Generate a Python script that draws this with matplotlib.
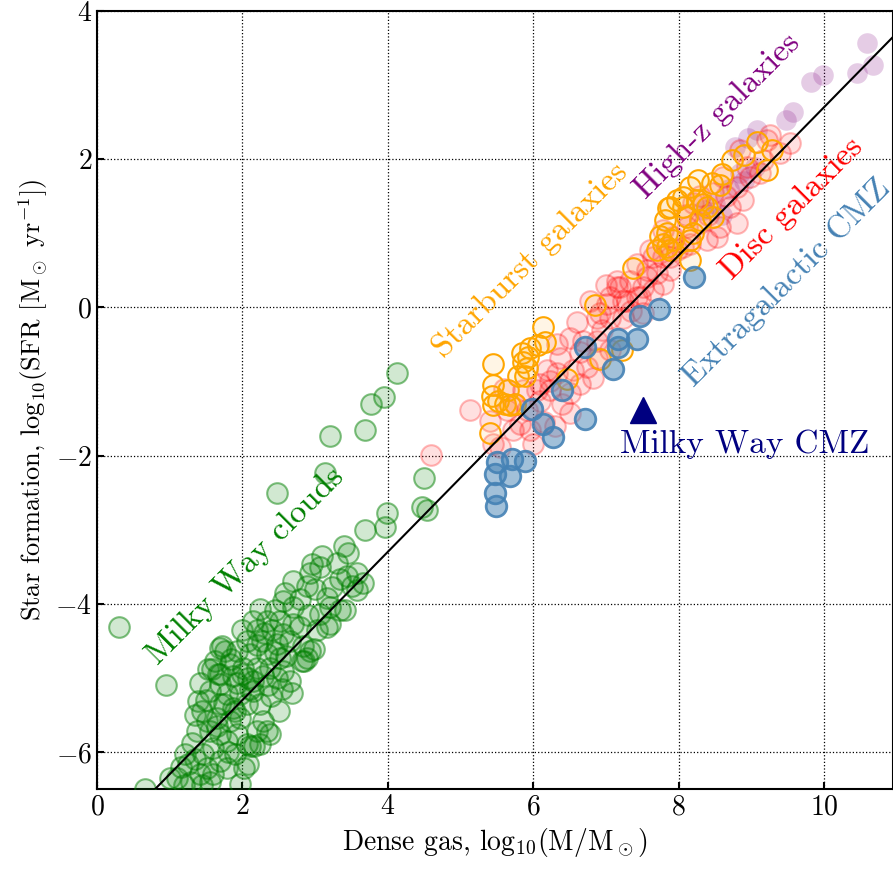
import numpy as np
import matplotlib.pyplot as plt

plt.rcParams['font.family'] = 'serif'
plt.rcParams['font.serif'] = ['cmr10']
plt.rcParams['mathtext.fontset'] = 'cm'
plt.rcParams['axes.formatter.use_mathtext'] = True

# (log M_dense, log SFR)
mw_clouds = [
    (0.30, -4.31), (0.95, -5.09), (2.48, -2.51), (3.20, -1.73), (3.14, -2.24),
    (3.69, -1.65), (3.77, -1.30), (3.95, -1.21), (4.13, -0.88), (4.50, -2.30),
    (4.47, -2.70), (4.54, -2.74), (3.99, -2.77), (3.96, -2.96), (3.69, -3.01),
    (3.40, -3.22), (3.45, -3.32), (3.09, -3.35), (2.96, -3.46), (3.07, -3.51),
    (2.93, -3.59), (2.70, -3.69), (3.34, -3.66), (3.44, -3.62), (3.58, -3.59),
    (3.66, -3.72), (3.51, -3.76), (3.58, -3.82), (2.59, -3.85), (2.89, -3.76),
    (3.00, -3.80), (2.56, -3.96), (2.79, -3.93), (3.16, -3.92), (3.20, -4.05),
    (3.41, -4.09), (3.07, -4.14), (2.24, -4.07), (2.45, -4.09), (2.15, -4.23),
    (2.34, -4.23), (2.52, -4.23), (2.70, -4.27), (2.79, -4.32), (3.16, -4.32),
    (3.03, -4.36), (2.20, -4.36), (2.41, -4.36), (2.56, -4.41), (2.06, -4.50),
    (2.27, -4.50), (2.48, -4.54), (2.65, -4.50), (2.84, -4.57), (2.98, -4.61),
    (1.69, -4.59), (1.93, -4.64), (2.10, -4.68), (2.34, -4.68), (2.52, -4.73),
    (2.82, -4.77), (2.89, -4.73), (1.62, -4.77), (1.83, -4.81), (2.01, -4.86),
    (2.20, -4.86), (2.38, -4.86), (2.56, -4.91), (1.53, -4.88), (1.69, -4.95),
    (1.87, -4.97), (2.08, -5.00), (2.28, -4.97), (2.48, -5.00), (1.72, -4.57),
    (1.76, -4.64), (1.42, -5.07), (1.58, -4.88), (1.66, -4.95), (1.39, -5.31),
    (1.44, -5.45), (1.51, -5.58), (1.38, -5.72), (1.31, -5.88), (1.21, -6.03),
    (1.25, -6.16), (1.10, -6.35), (0.66, -6.50), (1.97, -6.43), (2.08, -6.16),
    (2.10, -5.92), (1.90, -6.03), (1.69, -6.12), (1.51, -6.22), (1.42, -6.30),
    (1.60, -6.30), (1.79, -6.22), (1.46, -6.03), (1.60, -5.95), (1.79, -5.85),
    (1.69, -5.76), (1.93, -5.76), (1.55, -5.72), (1.83, -5.58), (1.65, -5.54),
    (1.97, -5.54), (1.69, -5.35), (1.87, -5.40), (2.06, -5.35), (1.79, -5.22),
    (1.97, -5.22), (2.15, -5.18), (1.69, -5.08), (1.93, -5.07), (2.15, -5.04),
    (1.55, -5.18), (2.24, -5.35), (2.28, -5.58), (2.20, -5.72), (2.06, -5.89),
    (2.24, -5.89), (2.34, -5.72), (2.38, -5.76), (2.50, -5.45), (2.68, -5.20),
    (2.65, -5.04), (2.85, -4.77), (2.93, -4.64), (3.20, -4.27), (3.34, -4.09),
    (3.23, -3.78), (2.02, -6.22), (2.16, -5.92), (1.00, -6.35), (1.15, -6.20),
    (1.30, -6.40), (1.20, -6.45), (1.45, -6.45), (1.35, -5.50), (1.50, -5.30),
    (1.75, -5.35), (2.40, -5.25), (2.35, -5.10), (2.60, -4.70), (2.00, -4.35),
    (2.30, -4.40), (1.85, -4.75), (2.70, -4.05), (2.90, -4.15), (3.30, -3.45),
    (1.35, -6.10), (1.55, -6.40), (1.80, -6.00), (1.65, -5.65), (2.10, -5.15),
    (2.20, -4.55), (2.45, -4.65), (2.00, -4.95), (2.55, -5.15), (1.90, -5.45),
]

disc = [
    (4.59, -1.99), (5.13, -1.39), (5.41, -1.53), (5.54, -1.89), (5.45, -1.84),
    (6.00, -1.84), (5.82, -1.57), (5.91, -1.39), (6.09, -1.26), (6.23, -1.12),
    (6.51, -1.42), (6.51, -1.16), (6.33, -0.89), (6.19, -0.85), (6.55, -0.85),
    (6.74, -0.81), (6.88, -0.68), (6.37, -0.68), (6.33, -0.49), (6.51, -0.41),
    (6.69, -0.45), (6.88, -0.45), (7.06, -0.58), (6.92, -0.08), (6.78, 0.09),
    (7.02, 0.05), (7.29, 0.09), (7.47, 0.14), (6.05, -1.12), (5.86, -1.12),
    (5.64, -1.39), (5.72, -1.66), (6.09, -1.03), (6.23, -0.99), (6.64, -1.03),
    (6.82, -0.95), (7.19, 0.27), (7.33, 0.36), (7.57, 0.50), (7.70, 0.46),
    (7.51, 0.27), (7.79, 0.32), (7.88, 0.50), (7.88, 0.68), (7.65, 0.68),
    (8.06, 0.81), (7.92, 0.95), (7.24, 0.09), (7.06, 0.14), (7.15, 0.36),
    (7.43, 0.59), (7.61, 0.77), (7.79, 1.04), (7.43, 0.14), (7.06, -0.14),
    (7.24, -0.14), (6.88, -0.14), (9.53, 2.22), (9.39, 2.08), (9.26, 2.32),
    (9.16, 1.99), (8.98, 1.76), (8.80, 1.62), (8.89, 1.45), (8.71, 1.35),
    (8.57, 1.08), (8.80, 1.14), (8.53, 0.95), (8.39, 0.91), (8.16, 0.86),
    (8.29, 1.14), (8.20, 1.41), (8.47, 1.54), (8.61, 1.76), (8.94, 1.89),
    (9.12, 1.81), (8.84, 2.12), (9.21, 2.26), (8.12, 1.08), (7.98, 0.77),
    (7.79, 0.68), (7.57, 0.41), (7.15, 0.27), (7.65, 0.23), (7.51, -0.08),
    (5.60, -1.10), (5.75, -1.30), (6.40, -1.30), (6.65, -0.60), (6.15, -1.55),
    (6.60, -0.20), (6.95, -0.30), (7.35, -0.05), (7.00, 0.30), (8.40, 1.25),
    (8.30, 1.50), (8.65, 1.50), (8.10, 1.25), (6.30, -1.60), (5.95, -1.65),
]

starburst = [
    (6.85, 0.03), (6.13, -0.27), (6.16, -0.47), (6.07, -0.51), (5.96, -0.55),
    (5.85, -0.61), (5.45, -0.76), (5.93, -0.67), (5.86, -0.74), (5.79, -0.92),
    (5.89, -0.92), (5.91, -0.82), (5.45, -1.05), (5.43, -1.19), (5.52, -1.26),
    (5.45, -1.32), (5.65, -1.12), (5.68, -1.32), (5.75, -1.30), (5.61, -1.30),
    (5.41, -1.70), (6.46, -0.96), (6.92, -0.69), (7.22, -0.58), (7.37, 0.53),
    (8.16, 0.64), (7.85, 1.34), (7.74, 0.97), (7.79, 0.86), (7.88, 0.77),
    (7.70, 0.77), (8.27, 1.72), (8.06, 1.35), (8.34, 1.40), (8.73, 1.99),
    (9.08, 2.23), (9.21, 1.85), (9.28, 2.12), (8.57, 1.65), (7.81, 1.18),
    (7.84, 0.81), (8.16, 1.62), (8.46, 1.68), (7.98, 1.45), (8.06, 1.49),
    (7.88, 1.35), (8.25, 1.45), (8.39, 1.35), (8.47, 1.22), (8.29, 1.18),
    (8.12, 1.22), (7.84, 1.00), (7.92, 0.91), (8.16, 0.91), (8.20, 1.00),
    (8.90, 2.05), (8.60, 1.80),
]

ext_cmz = [
    (7.73, -0.02), (7.47, -0.11), (7.43, -0.42), (7.17, -0.42), (7.17, -0.54),
    (7.10, -0.83), (6.71, -0.54), (6.40, -1.12), (5.98, -1.37), (6.13, -1.57),
    (6.27, -1.75), (6.71, -1.50), (5.50, -2.09), (5.71, -2.04), (5.89, -2.07),
    (5.47, -2.25), (5.68, -2.27), (5.47, -2.51), (5.49, -2.68), (8.21, 0.41),
]

high_z = [
    (10.59, 3.57), (10.67, 3.27), (10.45, 3.16), (9.99, 3.14), (9.82, 3.04),
    (9.57, 2.64), (9.48, 2.53), (9.08, 2.39), (8.95, 2.28), (8.78, 2.16),
    (8.84, 1.81), (9.05, 1.89), (8.70, 1.60), (8.50, 1.40), (8.90, 1.70),
    (8.34, 1.31), (8.60, 1.25),
]

mw_cmz = (7.51, -1.38)

fit_slope = 1.0
fit_intercept = -7.3

fig = plt.figure(figsize=(8.93, 8.71), dpi=100)
ax = fig.add_axes([0.1086, 0.0941, 0.8914, 0.8933])


def plot_group(pts, face, edge, lw=1.5):
    a = np.array(pts)
    ax.scatter(a[:, 0], a[:, 1], s=220, facecolor=face, edgecolor=edge,
               linewidth=lw, zorder=3)


plot_group(mw_clouds, (0, 0.5, 0, 0.18), (0, 0.5, 0, 0.5))
plot_group(high_z, (0.5, 0, 0.5, 0.2), (0.5, 0, 0.5, 0.0))
plot_group(disc, (1, 0, 0, 0.12), (1, 0, 0, 0.28))
plot_group(starburst, (1, 0.65, 0, 0.1), (1, 0.65, 0, 1.0))
plot_group(ext_cmz, (0.27, 0.51, 0.71, 0.5), (0.27, 0.51, 0.71, 0.9), lw=2)

ax.plot(mw_cmz[0], mw_cmz[1], marker='^', ms=19, color='navy', zorder=4)
ax.text(7.2, -1.85, 'Milky Way CMZ', color='navy', fontsize=24,
        ha='left', va='center')

xl = np.array([0, 11])
ax.plot(xl, fit_slope * xl + fit_intercept, color='k', lw=1.5, zorder=4)

labels = [
    ('Milky Way clouds', 2.04, -3.49, 'green'),
    ('Starburst galaxies', 5.96, 0.64, 'orange'),
    ('High-z galaxies', 8.54, 2.59, 'purple'),
    ('Disc galaxies', 9.56, 1.34, 'red'),
    ('Extragalactic CMZ', 9.49, 0.33, 'steelblue'),
]
for txt, x, y, c in labels:
    ax.text(x, y, txt, color=c, fontsize=24, rotation=45,
            rotation_mode='anchor', ha='center', va='center')

ax.set_xlim(0, 10.95)
ax.set_ylim(-6.5, 4)
ax.set_xticks([0, 2, 4, 6, 8, 10])
ax.set_yticks([-6, -4, -2, 0, 2, 4])
ax.grid(True, color='k', linestyle=':', linewidth=0.9)
ax.set_axisbelow(True)
ax.tick_params(direction='in', length=5, width=1.5, labelsize=20)
for sp in ax.spines.values():
    sp.set_linewidth(1.5)

ax.set_xlabel(r'Dense gas, log$_{10}$(M/M$_\odot$)', fontsize=20)
ax.set_ylabel(r'Star formation, log$_{10}$(SFR [M$_\odot$ yr$^{-1}$])', fontsize=19)

fig.savefig('out.png', dpi=100)
